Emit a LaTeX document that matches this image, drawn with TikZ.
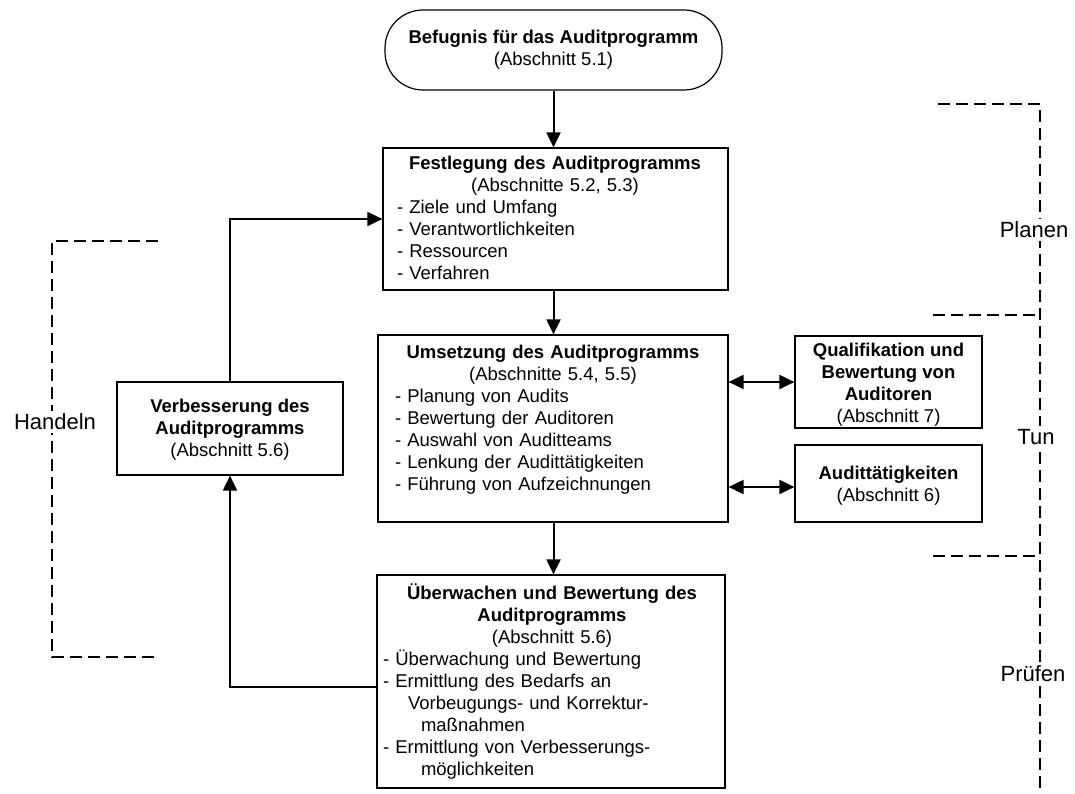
\documentclass[tikz,border=0pt]{standalone}
\usepackage{fontspec}
\setmainfont{Liberation Sans}
\usetikzlibrary{arrows.meta}
\begin{document}
\begin{tikzpicture}[x=1pt,y=-1pt,
  box/.style={draw, line width=1.2pt, inner sep=0pt},
  txt/.style={inner sep=0pt, font=\fontsize{18.5}{22}\selectfont, align=center},
  ltxt/.style={inner sep=0pt, font=\fontsize{18.5}{22}\selectfont, align=left},
  arr/.style={line width=2pt, -{Triangle[length=15pt,width=14pt]}},
  darr/.style={line width=2pt, {Triangle[length=15pt,width=14pt]}-{Triangle[length=15pt,width=14pt]}},
  brk/.style={line width=1.8pt, dash pattern=on 12pt off 6pt},
  lbl/.style={font=\fontsize{22}{26}\selectfont, fill=white, inner sep=3pt}]
\useasboundingbox (0,0) rectangle (1075,794);

% boxes
\node[box, rounded corners=38pt, minimum width=337pt, minimum height=80pt] (top) at (553.5,50) {};
\node[box, minimum width=345pt, minimum height=142pt] (fest) at (555.5,219) {};
\node[box, minimum width=350pt, minimum height=187pt] (ums) at (553,428.5) {};
\node[box, minimum width=187pt, minimum height=92pt] (qual) at (888.5,382) {};
\node[box, minimum width=187pt, minimum height=77pt] (aud) at (888.5,483.5) {};
\node[box, minimum width=348pt, minimum height=213pt] (ueb) at (551,681.5) {};
\node[box, minimum width=226pt, minimum height=93pt] (verb) at (230,428.5) {};

% texts
\node[txt] (topT) at (553.5,50) {\textbf{Befugnis für das Auditprogramm}\\(Abschnitt 5.1)};
\node[ltxt, text width=316pt] (festT) at (555,217.5) {{\centering\textbf{Festlegung des Auditprogramms}\\(Abschnitte 5.2, 5.3)\par}
- Ziele und Umfang\\- Verantwortlichkeiten\\- Ressourcen\\- Verfahren};
\node[ltxt, text width=316pt] (umsT) at (553,419.5) {{\centering\textbf{Umsetzung des Auditprogramms}\\(Abschnitte 5.4, 5.5)\par}
- Planung von Audits\\- Bewertung der Auditoren\\- Auswahl von Auditteams\\- Lenkung der Audittätigkeiten\\- Führung von Aufzeichnungen};
\node[txt] (qualT) at (888.5,385) {\textbf{Qualifikation und}\\\textbf{Bewertung von}\\\textbf{Auditoren}\\(Abschnitt 7)};
\node[txt] (audT) at (888.5,486) {\textbf{Audittätigkeiten}\\(Abschnitt 6)};
\node[ltxt, text width=338pt] (uebT) at (552,681.5) {{\centering\textbf{Überwachen und Bewertung des}\\\textbf{Auditprogramms}\\(Abschnitt 5.6)\par}
- Überwachung und Bewertung\\- Ermittlung des Bedarfs an\\\hspace*{25pt}Vorbeugungs- und Korrektur-\\\hspace*{38pt}maßnahmen\\- Ermittlung von Verbesserungs-\\\hspace*{38pt}möglichkeiten};
\node[txt] (verbT) at (230,430) {\textbf{Verbesserung des}\\\textbf{Auditprogramms}\\(Abschnitt 5.6)};

% connectors
\draw[arr] (top.south) -- (top.south |- fest.north);
\draw[arr] (top.south |- fest.south) -- (top.south |- ums.north);
\draw[arr] (top.south |- ums.south) -- (top.south |- ueb.north);
\coordinate (lo) at (230,687);
\coordinate (hi) at (230,219);
\draw[arr] (lo -| ueb.west) -- (lo) -- (verb.south);
\draw[arr] (verb.north) -- (hi) -- (hi -| fest.west);
\draw[darr] (ums.east |- qual.west) -- (qual.west);
\coordinate (m2) at (760,487);
\draw[darr] (m2 -| ums.east) -- (m2 -| aud.west);

% phase brackets
\draw[brk] (158,241) -- (52,241) -- (52,657) -- (158,657);
\node[lbl] (handeln) at (55,422) {Handeln};
\draw[brk] (938,104) -- (1040,104) -- (1040,792);
\draw[brk] (933,315) -- (1040,315);
\draw[brk] (933,556) -- (1040,556);
\node[lbl] (planen) at (1034,230) {Planen};
\node[lbl] (tun) at (1036,437) {Tun};
\node[lbl] (pruefen) at (1033,674) {Prüfen};
\end{tikzpicture}
\end{document}
